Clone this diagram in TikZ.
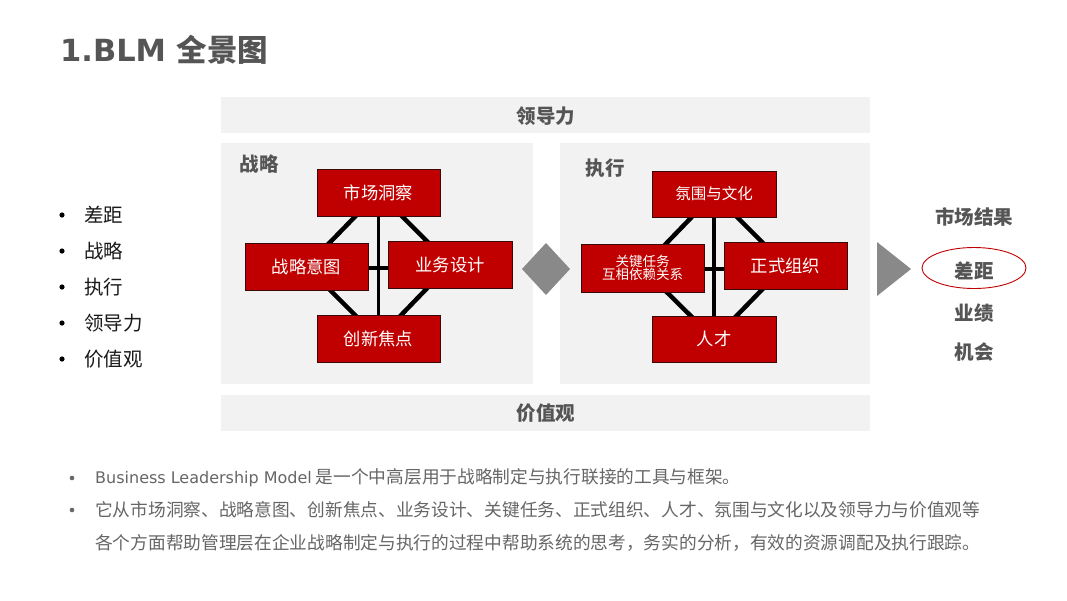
\documentclass[tikz,border=0pt]{standalone}
\usepackage{fontspec}
\setmainfont{DejaVu Sans}
\newfontfamily\cjk{Noto Sans CJK SC}
\usetikzlibrary{shapes.geometric}
\definecolor{boxred}{HTML}{C00000}
\definecolor{boxedge}{HTML}{3A0A0A}
\definecolor{panelgray}{HTML}{F2F2F2}
\definecolor{headgray}{HTML}{555555}
\definecolor{arrowgray}{HTML}{898989}
\definecolor{bodygray}{HTML}{666666}
\newcommand{\fs}[1]{\fontsize{#1}{#1}\selectfont}
\tikzset{
  panel/.style={fill=panelgray, draw=none},
  redbox/.style={fill=boxred, draw=boxedge, line width=1pt, text=white,
    minimum width=123pt, minimum height=47pt, inner sep=0pt, font=\cjk\fs{17.3}},
  link/.style={line width=4.5pt, black},
  headtxt/.style={text=headgray, inner sep=0pt, font=\cjk\bfseries\fs{19.5}},
  bullettxt/.style={text=black!90, inner sep=0pt, anchor=west, font=\cjk\fs{19.5}},
  bodytxt/.style={text=bodygray, inner sep=0pt, anchor=west, font=\cjk\fs{17.7}},
}
\begin{document}
\begin{tikzpicture}[x=1pt,y=-1pt]
\useasboundingbox (0,0) rectangle (1067,600);
\fill[white] (0,0) rectangle (1067,600);

% title
\node[anchor=west, inner sep=0pt, text=headgray, font=\bfseries\fs{30.5}] (title) at (60,50)
  {1.BLM {\cjk\bfseries 全景图}};

% bars and panels
\node[panel, minimum width=649pt, minimum height=36pt, inner sep=0pt] (lead) at (545.5,115) {};
\node[headtxt] (leadt) at (546,116) {领导力};
\node[panel, minimum width=649pt, minimum height=36pt, inner sep=0pt] (val) at (545.5,413) {};
\node[headtxt] (valt) at (546,413) {价值观};
\node[panel, minimum width=312pt, minimum height=241pt, inner sep=0pt] (pS) at (377,263.5) {};
\node[panel, minimum width=310pt, minimum height=241pt, inner sep=0pt] (pE) at (715,263.5) {};
\node[headtxt] (pSt) at (259,164) {战略};
\node[headtxt] (pEt) at (605,168) {执行};

% strategy diamond
\coordinate (sAc) at (378.5,192.5);
\coordinate (sBc) at (306.5,266.5);
\coordinate (sCc) at (450,264.5);
\coordinate (sDc) at (378.5,338.5);
\draw[link] (sAc) -- (sBc) -- (sDc) -- (sCc) -- cycle;
\draw[link, line width=3.5pt] (sAc) -- (sDc);
\draw[link, line width=3.5pt] (306.5,268) -- (450,268);
\node[redbox] (sA) at (sAc) {市场洞察};
\node[redbox] (sB) at (sBc) {战略意图};
\node[redbox, minimum width=124pt] (sC) at (sCc) {业务设计};
\node[redbox] (sD) at (sDc) {创新焦点};

% execution diamond
\coordinate (eAc) at (714,194);
\coordinate (eBc) at (642.5,268);
\coordinate (eCc) at (785.5,265.5);
\coordinate (eDc) at (714,339);
\draw[link] (eAc) -- (eBc) -- (eDc) -- (eCc) -- cycle;
\draw[link, line width=3.5pt] (eAc) -- (eDc);
\draw[link, line width=3.5pt] (642.5,269) -- (785.5,269);
\node[redbox, minimum width=124pt, minimum height=46pt, font=\cjk\fs{15.5}] (eA) at (eAc) {氛围与文化};
\node[redbox, minimum height=48pt, align=center, font=\cjk\fs{13.5}] (eB) at (eBc) {关键任务\\[-1pt]互相依赖关系};
\node[redbox, font=\cjk\fs{17.3}] (eC) at (eCc) {正式组织};
\node[redbox, minimum width=124pt, minimum height=46pt] (eD) at (eDc) {人才};

% connector arrows
\fill[arrowgray] (522,269) -- (546,243) -- (570,269) -- (546,295) -- cycle;
\fill[arrowgray] (877,242) -- (911,269) -- (877,296) -- cycle;

% results
\node[headtxt] (res) at (974,217) {市场结果};
\node[draw=boxred, line width=0.9pt, ellipse, minimum width=104pt, minimum height=41pt, inner sep=0pt] (gapE) at (974,268) {};
\node[headtxt] (gap) at (974,271) {差距};
\node[headtxt] (perf) at (974,313) {业绩};
\node[headtxt] (opp) at (974,352) {机会};

% left bullets
\foreach \t/\y [count=\i] in {差距/215, 战略/251, 执行/287, 领导力/323, 价值观/359}{
  \fill[black] (62,\y) circle (2.6pt);
  \node[bullettxt] (lb\i) at (84,\y) {\t};
}

% bottom text
\fill[bodygray] (72,478) circle (2.3pt);
\fill[bodygray] (72,510) circle (2.3pt);
\node[bodytxt] (b1) at (95,478) {{\rmfamily\fs{16}Business Leadership Model} 是一个中高层用于战略制定与执行联接的工具与框架。};
\node[bodytxt] (b2) at (95,510) {它从市场洞察、战略意图、创新焦点、业务设计、关键任务、正式组织、人才、氛围与文化以及领导力与价值观等};
\node[bodytxt] (b3) at (95,543) {各个方面帮助管理层在企业战略制定与执行的过程中帮助系统的思考，务实的分析，有效的资源调配及执行跟踪。};
\end{tikzpicture}
\end{document}
